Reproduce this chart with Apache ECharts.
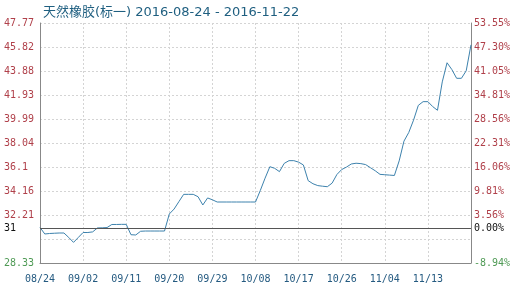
<!DOCTYPE html>
<html>
<head>
<meta charset="utf-8">
<script src="https://cdn.jsdelivr.net/npm/echarts@6/dist/echarts.min.js"></script>
<style>
html,body{margin:0;padding:0;background:#fff;}
#c{width:521px;height:291px;}
</style>
</head>
<body>
<div id="c"></div>
<script>
var titleText = '天然橡胶(标一) 2016-08-24 - 2016-11-22';
var startDate = '2016-08-24';
var dayCount = 91;
var labelEvery = 9;
var prices = [
  31.21, 30.68, 30.72, 30.74, 30.76, 30.76, 30.40, 30.00, 30.40, 30.80,
  30.80, 30.85, 31.17, 31.18, 31.20, 31.45, 31.45, 31.46, 31.46, 30.62,
  30.60, 30.90, 30.92, 30.92, 30.92, 30.92, 30.92, 32.30, 32.70, 33.30,
  33.89, 33.89, 33.89, 33.70, 33.03, 33.60, 33.45, 33.27, 33.27, 33.27,
  33.27, 33.27, 33.27, 33.27, 33.27, 33.27, 34.20, 35.20, 36.13, 36.00,
  35.73, 36.40, 36.62, 36.62, 36.50, 36.27, 35.00, 34.75, 34.60, 34.55,
  34.51, 34.80, 35.50, 35.90, 36.10, 36.35, 36.41, 36.38, 36.30, 36.05,
  35.80, 35.51, 35.48, 35.45, 35.42, 36.60, 38.20, 38.90, 39.90, 41.10,
  41.40, 41.40, 41.00, 40.70, 43.00, 44.55, 44.00, 43.29, 43.29, 43.90,
  46.00
];
var basePrice = 31.11;
var baseLeftLabel = '31';
var baseRightLabel = '0.00%';
var yMin = 28.33;
var yMax = 47.77;
var leftLabels = ['28.33', '', '32.21', '34.16', '36.1', '38.04', '39.99', '41.93', '43.88', '45.82', '47.77'];
var rightLabels = ['-8.94%', '', '3.56%', '9.81%', '16.06%', '22.31%', '28.56%', '34.81%', '41.05%', '47.30%', '53.55%'];

function pad(n){ return n < 10 ? '0' + n : '' + n; }
var dates = [];
(function(){
  var d = new Date(startDate + 'T00:00:00Z');
  for (var i = 0; i < dayCount; i++) {
    dates.push(pad(d.getUTCMonth() + 1) + '/' + pad(d.getUTCDate()));
    d.setUTCDate(d.getUTCDate() + 1);
  }
})();

var mono = 'DejaVu Sans Mono';
var richStyles = {
  r: {color: '#b0404a', fontFamily: mono, fontSize: 10},
  g: {color: '#4f9a55', fontFamily: mono, fontSize: 10}
};
function styled(labels, idx) {
  var t = labels[idx];
  if (!t) return '';
  return (idx === 0 ? '{g|' : '{r|') + t + '}';
}
function showLabel(idx) { return idx % labelEvery === 0 && idx < dayCount - 1; }
var gridLine = {color: '#d4d4d4', type: [2, 2], width: 1};

var chart = echarts.init(document.getElementById('c'), null, {renderer: 'canvas'});
chart.setOption({
  animation: false,
  backgroundColor: '#fff',
  title: {
    text: titleText,
    left: 38,
    top: 1,
    textStyle: {color: '#1f5f80', fontSize: 13, fontWeight: 'normal', fontFamily: 'DejaVu Sans, Noto Sans CJK SC'}
  },
  grid: {left: 40, right: 50, top: 23, bottom: 28, containLabel: false},
  xAxis: {
    type: 'category',
    data: dates,
    boundaryGap: false,
    axisLine: {lineStyle: {color: '#888', width: 1}},
    axisTick: {show: false},
    axisLabel: {interval: showLabel, color: '#245a80', fontFamily: mono, fontSize: 10, margin: 11},
    splitLine: {show: true, interval: showLabel, lineStyle: gridLine}
  },
  yAxis: [
    {type: 'value', min: yMin, max: yMax, show: false},
    {
      type: 'value', min: 0, max: 10, interval: 1, position: 'left',
      axisLine: {show: true, lineStyle: {color: '#888'}},
      axisTick: {show: false},
      axisLabel: {
        align: 'left', margin: 36,
        formatter: function(v){ return styled(leftLabels, Math.round(v)); },
        rich: richStyles
      },
      splitLine: {show: true, lineStyle: gridLine}
    },
    {
      type: 'value', min: 0, max: 10, interval: 1, position: 'right',
      axisLine: {show: true, lineStyle: {color: '#888'}},
      axisTick: {show: false},
      axisLabel: {
        align: 'left', margin: 3,
        formatter: function(v){ return styled(rightLabels, Math.round(v)); },
        rich: richStyles
      },
      splitLine: {show: false}
    }
  ],
  series: [{
    type: 'line',
    data: prices,
    yAxisIndex: 0,
    symbol: 'none',
    lineStyle: {color: '#3d82ad', width: 1},
    markLine: {
      silent: true,
      symbol: 'none',
      animation: false,
      lineStyle: {color: '#555', type: 'solid', width: 1},
      data: [
        {yAxis: basePrice, label: {position: 'start', distance: 5, formatter: '{a|' + baseLeftLabel + '}', rich: {a: {width: 31, align: 'left', color: '#111', fontFamily: mono, fontSize: 10}}}},
        {yAxis: basePrice, label: {position: 'end', distance: 3, formatter: baseRightLabel, color: '#111', fontFamily: mono, fontSize: 10}}
      ]
    }
  }]
});
</script>
</body>
</html>
